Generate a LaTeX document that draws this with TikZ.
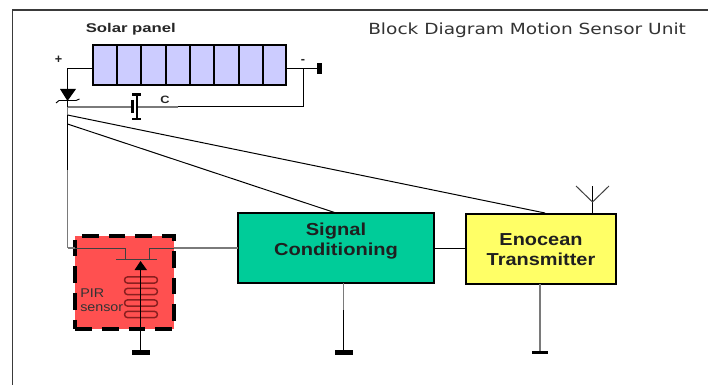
\documentclass[tikz,border=0pt]{standalone}
\usepackage{graphicx}
\usepackage{fontspec}
\setmainfont{Liberation Sans}
\newfontfamily\titlefont{DejaVu Sans}
\usetikzlibrary{calc}
\definecolor{frameC}{HTML}{3A3A3A}
\definecolor{cellC}{HTML}{CCCCFF}
\definecolor{sigC}{HTML}{00CC99}
\definecolor{enoC}{HTML}{FFFF66}
\definecolor{pirC}{HTML}{FF5050}
\definecolor{coilC}{HTML}{8A1F1F}
\definecolor{greyW}{HTML}{7A7A7A}
\newcommand\widetxt[2]{\scalebox{#1}[1]{#2}}
\tikzset{
  px/.style={x=0.75pt,y=-0.75pt},
  wire/.style={draw=black,line width=0.75pt},
  gwire/.style={draw=greyW,line width=0.8pt},
  block/.style={draw=black,line width=2.2pt,outer sep=0pt,minimum width=#1,inner sep=0pt,align=center,text=black!88,font=\bfseries\fontsize{13pt}{15pt}\selectfont},
  gnd/.style={fill=black,draw=none},
  cell/.style={draw=black,line width=2.2pt,fill=cellC,outer sep=0pt,minimum height=30pt,inner sep=0pt},
  coil/.style={draw=coilC,line width=1.1pt,rounded corners=2.4pt},
  capline/.style={draw=black,line width=2pt},
  lbl/.style={inner sep=0pt,font=\bfseries\fontsize{9.5pt}{11pt}\selectfont,text=black!85}
}
\begin{document}
\begin{tikzpicture}[px]
\useasboundingbox (0,0) rectangle (708,385);
\fill[white] (0,0) rectangle (708,385);
% frame
\coordinate (fTL) at (12.5,10);
\coordinate (fTR) at (708,10);
\coordinate (fBL) at (12.5,385);
\draw[frameC,line width=1.2pt] (fBL) -- (fTL) -- (fTR);
% panel cells
\foreach \i/\xa/\xb in {1/93/117,2/117/141,3/141/166,4/166/190,5/190/214,6/214/239,7/239/263,8/263/286}{
  \node[cell,minimum width={(\xb-\xa)*0.75pt},anchor=west] (cell\i) at (\xa,65) {};
}
\coordinate (panelL) at (92,68.5);
\coordinate (panelR) at (287,68.5);
\node[lbl,anchor=west] (solar) at (85.5,29) {\widetxt{1.32}{Solar panel}};
\node[lbl] (plus) at (58.5,59.5) {+};
\node[lbl] (minus) at (303,61) {-};
\node[lbl,font=\bfseries\fontsize{8pt}{10pt}\selectfont] (capC) at (165,100) {\widetxt{1.2}{C}};
\node[anchor=west,inner sep=0pt,font=\titlefont\fontsize{11.5pt}{13pt}\selectfont,text=black!80] (title) at (368,30) {\widetxt{1.21}{Block Diagram Motion Sensor Unit}};
% blocks
\node[block=147pt,fill=sigC,minimum height=52.5pt] (sig) at (336,248) {\raisebox{2pt}[0pt][0pt]{\widetxt{1.16}{\begin{tabular}{@{}c@{}}Signal\\Conditioning\end{tabular}}}};
\node[block=112.5pt,fill=enoC,minimum height=52.5pt] (eno) at (541,249) {\raisebox{-4.7pt}[0pt][0pt]{\widetxt{1.15}{\begin{tabular}{@{}c@{}}Enocean\\Transmitter\end{tabular}}}};
\node[draw=black,line width=3pt,dash pattern=on 12.5pt off 7.5pt,fill=pirC,outer sep=0pt,minimum width=74pt,minimum height=69.5pt,inner sep=0pt] (pir) at (124.5,282.5) {};
% junctions
\coordinate (jTop) at (67.5,68.5);
\coordinate (dBase) at (67.5,89);
\coordinate (dTip) at (67.5,101);
\coordinate (j1) at (67.5,107);
\coordinate (j2) at (67.5,115);
\coordinate (j3) at (67.5,124);
\coordinate (jBot) at (67.5,248);
\coordinate (capA) at (132.5,107);
\coordinate (capB) at (137,107);
\coordinate (jM) at (303,68.5);
\coordinate (jC) at (303,107);
\coordinate (gP) at (318,68.5);
% solar wiring
\draw[wire] (panelL) -- (jTop) -- (dBase);
\fill[black] (60,89) -- (76,89) -- (dTip) -- cycle;
\draw[wire,line width=0.7pt] (56,103) -- (59,100.5) -- (76,100.5) -- (79.5,99);
\draw[wire] (panelR) -- (gP);
\fill[gnd] (317,63) rectangle (321.5,74);
\draw[wire] (jM) -- (jC) -- (178,107);
\draw[gwire] (178,107) -- (capB);
\draw[gwire] (j1) -- (capA);
\draw[capline] (132.8,100) -- (132.8,113.5);
\draw[capline] (132,94.5) -- (141,94.5);
\draw[capline] (137,94.5) -- (137,119);
\draw[capline] (132,119) -- (141,119);
% supply lines
\draw[wire] (dTip) -- (j1);
\draw[gwire] (j1) -- (j2);
\draw[wire] (j2) -- (j3) -- (67.5,170);
\draw[gwire] (67.5,170) -- (jBot);
\draw[wire] (j2) -- (545,213);
\draw[wire] (j3) -- (336,213);
% links
\draw[gwire] (jBot) -- (75,248);
\draw[wire,draw=black!75] (75,248) -- (125,248) -- (125,259);
\draw[wire,draw=black!75] (149,259) -- (149,248) -- (174,248);
\draw[gwire] (174,248) -- (sig.west |- 0,248);
\draw[wire] (sig.east |- 0,248) -- (eno.west |- 0,248);
% FET
\draw[wire,draw=black!75] (116,259) -- (157,259);
% coils
\foreach \y in {280,291.5,303,314.5}{
  \draw[coil] (124.5,\y-3.2) rectangle (157.5,\y+3.2);
}
\fill[black] (140.5,261) -- (147,270) -- (134.5,270) -- cycle;
\coordinate (stemT) at (140.5,270);
\coordinate (stemB) at (140.5,351);
\draw[wire] (stemT) -- (stemB);
\fill[gnd] (132,350) rectangle (149.5,355);
\node[inner sep=0pt,align=left,anchor=west,text=black!80,font=\fontsize{9.5pt}{10.5pt}\selectfont] (pirT) at (80,301.5) {\widetxt{1.13}{\begin{tabular}{@{}l@{}}PIR\\sensor\end{tabular}}};
% signal ground
\coordinate (sgT) at (343.5,283);
\coordinate (sgM) at (343.5,310);
\coordinate (sgB) at (343.5,351);
\draw[gwire] (sgT) -- (sgM);
\draw[wire] (sgM) -- (sgB);
\fill[gnd] (334.5,350) rectangle (352.5,355);
% transmitter ground
\coordinate (egT) at (540,284);
\coordinate (egB) at (540,352);
\draw[gwire] (egT) -- (egB);
\fill[gnd] (532,351) rectangle (548,353.5);
% antenna
\coordinate (aB) at (592.5,214);
\coordinate (aJ) at (592.5,202);
\coordinate (aT) at (592.5,186);
\coordinate (aL) at (576,186);
\coordinate (aR) at (609,186);
\draw[wire] (aB) -- (aT);
\draw[wire,draw=black!75] (aL) -- (aJ) -- (aR);
\end{tikzpicture}
\end{document}
